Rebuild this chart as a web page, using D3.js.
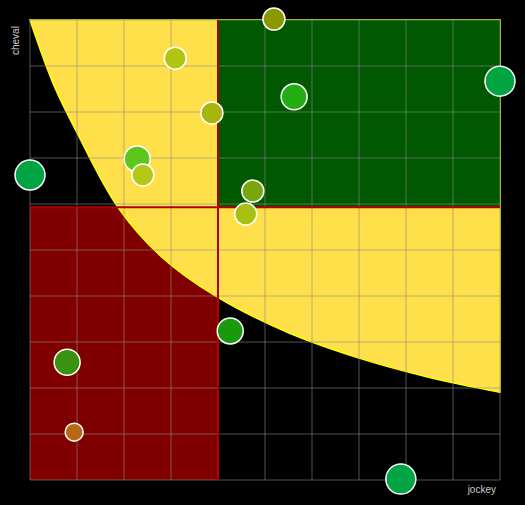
<!DOCTYPE html>
<html><head><meta charset="utf-8">
<script src="https://cdn.jsdelivr.net/npm/d3@7"></script>
<style>body{margin:0;background:#000}</style></head>
<body><svg id="c" width="525" height="505"></svg>
<script>
const ticks = [0,10,20,30,40,50,60,70,80,90,100];
const splitX = 40, splitY = 59.3;
const boundary = [[0,100],[5,86],[10,75.5],[18.7,59.3],[28,48.5],[39.8,39.8],[55,32],[70,26.5],[85,22.3],[100,19.1]];
const px = [51.9,30.9,56.2,100,38.7,22.8,24.0,0,47.4,45.9,42.6,7.9,9.4,78.9];
const py = [100.2,91.7,83.3,86.7,79.8,69.8,66.3,66.3,62.8,57.8,32.4,25.6,10.4,0.2];
const sizes = [11,11,13,15,11,13,11,15,11,11,13,13,9,15];
const colors = ["#8a9800","#b2c412","#22ae12","#00a443","#a6b60e","#5cc61a","#b6c816","#00a443","#78a60e","#a8c010","#199a0e","#3a9210","#b8680e","#00a443"];
const svg = d3.select("#c");
const x = d3.scaleLinear().domain([0,100]).range([30,500]);
const y = d3.scaleLinear().domain([0,100]).range([480,20]);
// red quadrant
svg.append("rect").attr("x",x(0)).attr("y",y(splitY)).attr("width",x(splitX)-x(0)).attr("height",y(0)-y(splitY)).attr("fill","#800000");
// yellow region
const area = [[100,100],[0,100],...boundary.slice(1),[100,19.1]];
const line = d3.line().x(d=>x(d[0])).y(d=>y(d[1])).curve(d3.curveCatmullRom);
svg.append("path").attr("d", line(boundary)+`L${x(100)},${y(100)}Z`).attr("fill","#ffe04a").attr("stroke","#ffff00").attr("stroke-width",1.5);
// green quadrant
svg.append("rect").attr("x",x(splitX)).attr("y",y(100)).attr("width",x(100)-x(splitX)).attr("height",y(splitY)-y(100)).attr("fill","#005800");
// grid
svg.append("g").selectAll("line").data(ticks).join("line").attr("x1",d=>x(d)).attr("x2",d=>x(d)).attr("y1",y(0)).attr("y2",y(100)).attr("stroke","#888").attr("stroke-opacity",0.6);
svg.append("g").selectAll("line").data(ticks).join("line").attr("y1",d=>y(d)).attr("y2",d=>y(d)).attr("x1",x(0)).attr("x2",x(100)).attr("stroke","#888").attr("stroke-opacity",0.6);
// split lines
svg.append("line").attr("x1",x(splitX)).attr("x2",x(splitX)).attr("y1",y(0)).attr("y2",y(100)).attr("stroke","#b00000").attr("stroke-width",2);
svg.append("line").attr("y1",y(splitY)).attr("y2",y(splitY)).attr("x1",x(0)).attr("x2",x(100)).attr("stroke","#b00000").attr("stroke-width",2);
// points
svg.append("g").selectAll("circle").data(px).join("circle")
 .attr("cx",(d,i)=>x(px[i])).attr("cy",(d,i)=>y(py[i])).attr("r",(d,i)=>sizes[i])
 .attr("fill",(d,i)=>colors[i]).attr("stroke","#fff").attr("stroke-width",1.5);
svg.append("text").attr("transform","translate(19,55) rotate(-90)").attr("fill","#ccc").attr("font-family","Arial, Liberation Sans").attr("font-size",10).text("cheval");
svg.append("text").attr("x",496).attr("y",493).attr("text-anchor","end").attr("fill","#ccc").attr("font-family","Arial, Liberation Sans").attr("font-size",10).text("jockey");
</script></body></html>
